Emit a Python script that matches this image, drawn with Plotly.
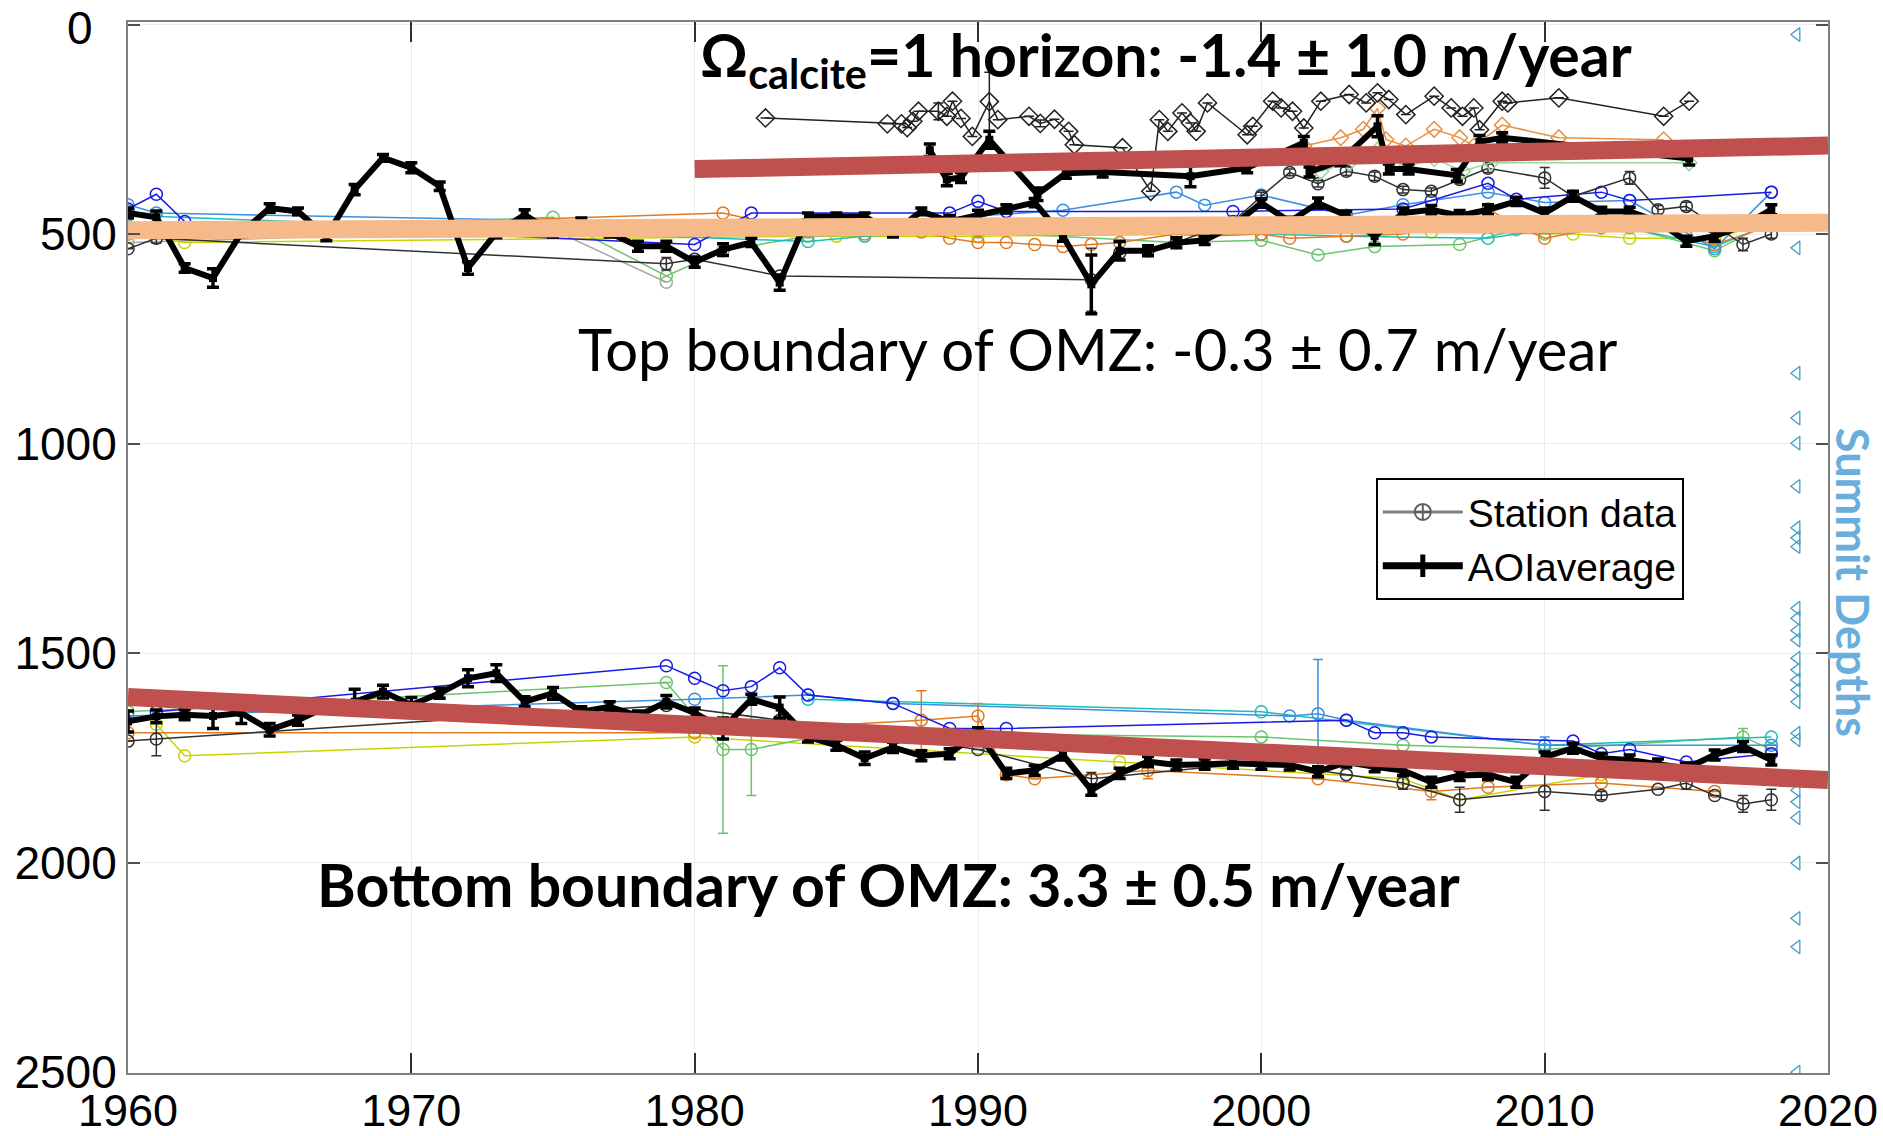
import plotly.graph_objects as go

# ---------------- data ----------------
# AOI average, top boundary of OMZ
aoi_top_years = list(range(1960, 2019))
aoi_top_depth = [450, 460, 581, 605, 497, 438, 446, 506, 394, 318, 342, 386, 581, 497, 454, 497, 470, 497,
                 529, 529, 567, 537, 520, 616, 458, 458, 458, 497, 446, 470, 455, 440, 425, 505, 620, 540,
                 540, 521, 515, 480, 426, 470, 426, 456, 505, 450, 442, 456, 442, 422, 450, 410, 446, 446,
                 470, 517, 505, 480, 442]
aoi_top_err = [12, 15, 10, 22, 10, 10, 8, 10, 12, 8, 12, 10, 15, 12, 12, 10, 8, 10,
               12, 12, 12, 14, 10, 18, 8, 8, 8, 10, 8, 14, 12, 10, 10, 12, 70, 22,
               12, 12, 10, 12, 10, 10, 12, 10, 20, 12, 10, 12, 12, 10, 12, 12, 10, 10,
               10, 12, 12, 10, 12]

# AOI average, Omega calcite = 1 horizon
aoi_om_years = [1988.3, 1988.9, 1989.4, 1990.4, 1992.1, 1993.1, 1994.4, 1997.5, 1999.5, 2001.5, 2001.7,
                2002.8, 2004.1, 2004.5, 2005.2, 2006.9, 2007.7, 2008.5, 2015.1]
aoi_om_depth = [300, 370, 365, 275, 405, 355, 352, 362, 342, 282, 352, 325, 243, 345, 345, 360, 280, 270, 320]
aoi_om_err = [15, 15, 12, 20, 15, 12, 12, 25, 12, 15, 12, 12, 25, 12, 12, 14, 15, 12, 15]

# station Omega horizons (diamonds)
om_st_years = [1982.5, 1986.8, 1987.3, 1987.5, 1987.7, 1987.9, 1988.6, 1988.9, 1989.1, 1989.4, 1989.8,
               1990.4, 1990.7, 1991.8, 1992.2, 1992.7, 1993.2, 1993.4, 1995.1, 1996.1, 1996.4, 1996.7,
               1997.2, 1997.5, 1997.7, 1998.1, 1999.5, 1999.7, 2000.4, 2000.7, 2001.1, 2001.5, 2002.1,
               2003.1, 2003.7, 2004.1, 2004.5, 2005.1, 2006.1, 2006.7, 2007.1, 2007.5, 2007.7, 2008.5,
               2008.7, 2010.5, 2014.2, 2015.1]
om_st_depth = [223, 237, 237, 246, 231, 207, 207, 219, 183, 224, 267, 184, 227, 219, 236, 226, 255, 287,
               294, 398, 227, 255, 211, 235, 255, 187, 263, 243, 183, 199, 207, 247, 183, 167, 187, 163,
               179, 215, 171, 199, 219, 199, 251, 183, 187, 175, 219, 183]
om_st_err = [0, 0, 0, 0, 0, 0, 20, 0, 0, 0, 0, 70, 0, 0, 8, 0, 0, 0, 0, 0, 0, 0, 0, 0, 0, 0, 0, 0, 0, 0,
             0, 0, 0, 0, 0, 0, 0, 0, 0, 0, 0, 0, 0, 0, 0, 0, 0, 0]

om_orange_years = [2001.5, 2002.8, 2003.6, 2004.1, 2004.4, 2005.1, 2006.1, 2007.0, 2007.5, 2008.5, 2010.5, 2014.2]
om_orange_depth = [290, 270, 250, 200, 275, 290, 250, 270, 290, 240, 270, 275]
om_green_years = [2002.1, 2003.1, 2004.1, 2005.1, 2006.1, 2007.1, 2008.1, 2015.1]
om_green_depth = [350, 330, 300, 340, 320, 350, 330, 330]

# station data, top boundary of OMZ
top_blue_years = [1960, 1961, 1962, 1980, 1982, 1989, 1990, 1991, 1999, 2005, 2006, 2008, 2009, 2012, 2013, 2018]
top_blue_depth = [440, 405, 470, 525, 450, 450, 422, 446, 446, 440, 420, 379, 417, 400, 420, 400]
top_lblue_years = [1960, 1961, 1985, 1993, 1997, 1998, 2000, 2003, 2005, 2008, 2010, 2013, 2016, 2018]
top_lblue_depth = [430, 450, 480, 443, 400, 431, 407, 455, 430, 400, 425, 420, 535, 400]
top_orange_years = [1960, 1981, 1984, 1986, 1988, 1989, 1990, 1991, 1992, 1993, 1994, 1995, 1997, 1998,
                    2000, 2001, 2003, 2005, 2006, 2007, 2008, 2009, 2010, 2012, 2013, 2015, 2016, 2018]
top_orange_depth = [495, 450, 495, 500, 495, 510, 520, 520, 525, 530, 525, 520, 500, 505,
                    500, 510, 505, 500, 480, 460, 440, 480, 510, 485, 470, 505, 525, 480]
top_green_years = [1960, 1975, 1979, 1981, 1984, 1990, 1997, 2000, 2002, 2004, 2007, 2009, 2010, 2013, 2016, 2018]
top_green_depth = [500, 460, 600, 540, 505, 495, 520, 515, 550, 530, 525, 490, 500, 485, 540, 470]
top_yellow_years = [1960, 1962, 1985, 1990, 2000, 2006, 2011, 2013, 2016, 2018]
top_yellow_depth = [500, 520, 505, 505, 500, 495, 500, 510, 510, 470]
top_cyan_years = [1960, 1984, 1986, 1990, 2000, 2003, 2008, 2012, 2016, 2018]
top_cyan_depth = [455, 518, 505, 490, 500, 505, 510, 470, 530, 475]
top_black_years = [1960, 1961, 1979, 1980, 1983, 1994, 1995, 1996, 1997, 1999, 2000, 2001, 2002, 2003,
                   2004, 2005, 2006, 2007, 2008, 2010, 2011, 2013, 2014, 2015, 2017, 2018]
top_black_depth = [535, 510, 571, 560, 600, 609, 545, 540, 520, 470, 410, 353, 380, 350,
                   362, 394, 398, 370, 343, 366, 410, 366, 442, 434, 525, 500]
top_black_err = [0, 12, 15, 0, 0, 75, 0, 8, 0, 0, 10, 8, 8, 10, 10, 8, 8, 10, 10, 25, 8, 15, 10, 10, 15, 10]
top_grey_years = [1960, 1975, 1979]
top_grey_depth = [520, 490, 615]

# AOI average, bottom boundary of OMZ
aoi_bot_years = list(range(1960, 2019))
aoi_bot_depth = [1663, 1651, 1647, 1650, 1643, 1683, 1660, 1628, 1616, 1592, 1624, 1596, 1560, 1548, 1616,
                 1596, 1640, 1628, 1650, 1616, 1643, 1680, 1610, 1630, 1700, 1720, 1751, 1725, 1745, 1740,
                 1690, 1787, 1780, 1743, 1827, 1787, 1759, 1767, 1765, 1763, 1765, 1767, 1783, 1760, 1771,
                 1780, 1808, 1792, 1790, 1808, 1748, 1727, 1751, 1755, 1765, 1775, 1743, 1723, 1755]
aoi_bot_err = [25, 15, 12, 30, 25, 15, 12, 12, 30, 15, 18, 12, 20, 20, 12, 14, 12, 12, 12, 15, 12, 25,
               12, 25, 12, 12, 15, 12, 12, 12, 12, 12, 12, 12, 12, 12, 12, 12, 12, 12, 12, 12, 12, 12,
               12, 12, 12, 12, 12, 12, 12, 12, 12, 12, 12, 12, 12, 12, 12]

# station data, bottom boundary of OMZ
bot_black_years = [1960, 1961, 1979, 1983, 1990, 1994, 2000, 2003, 2005, 2007, 2010, 2012, 2014, 2015, 2016, 2017, 2018]
bot_black_depth = [1710, 1705, 1625, 1660, 1730, 1800, 1760, 1790, 1810, 1850, 1830, 1840, 1825, 1810, 1840, 1860, 1850]
bot_black_err = [0, 40, 0, 0, 0, 15, 0, 0, 15, 30, 45, 10, 0, 15, 0, 20, 25]
bot_blue_years = [1961, 1979, 1980, 1981, 1982, 1983, 1984, 1987, 1989, 1991, 2003, 2004, 2005, 2006,
                  2011, 2012, 2013, 2015, 2018]
bot_blue_depth = [1640, 1530, 1560, 1590, 1580, 1535, 1600, 1620, 1680, 1680, 1660, 1690, 1690, 1700,
                  1710, 1740, 1730, 1760, 1740]
bot_lblue_years = [1960, 1980, 1984, 1987, 2001, 2002, 2003, 2010, 2018]
bot_lblue_depth = [1650, 1610, 1600, 1620, 1650, 1645, 1660, 1720, 1720]
bot_lblue_err = [0, 0, 0, 0, 0, 130, 0, 20, 0]
bot_green_years = [1960, 1979, 1981, 1982, 1985, 2000, 2005, 2010, 2017, 2018]
bot_green_depth = [1640, 1570, 1730, 1730, 1690, 1700, 1720, 1730, 1700, 1730]
bot_green_err = [0, 0, 200, 110, 0, 0, 0, 0, 20, 0]
bot_yellow_years = [1961, 1962, 1980, 1995, 2005, 2007, 2012, 2018]
bot_yellow_depth = [1670, 1745, 1700, 1760, 1800, 1850, 1790, 1800]
bot_orange_years = [1960, 1980, 1988, 1990, 1991, 1992, 1996, 2002, 2006, 2008, 2012, 2016]
bot_orange_depth = [1690, 1690, 1660, 1650, 1790, 1800, 1780, 1800, 1830, 1820, 1810, 1830]
bot_orange_err = [0, 0, 70, 30, 0, 0, 20, 0, 20, 0, 0, 0]
bot_cyan_years = [1984, 2000, 2010, 2018]
bot_cyan_depth = [1610, 1640, 1720, 1700]

# summit depths (right-hand triangles)
summit_year = 2018.9
summit_depths = [24, 533, 832, 939, 999, 1102, 1201, 1225, 1246, 1393, 1417, 1446, 1469, 1512, 1540,
                 1564, 1588, 1616, 1691, 1707, 1827, 1855, 1893, 2001, 2133, 2201, 2500]

# trend lines
omega_trend_years = [1980, 2020]
omega_trend_depth = [345, 289]
top_trend_years = [1960, 2020]
top_trend_depth = [491, 473]
bot_trend_years = [1960, 2020]
bot_trend_depth = [1605, 1803]

y_top_label = 0

# ---------------- figure ----------------
fig = go.Figure()


def station(xs, ys, color, symbol="circle-open", err=None, width=1.5, size=12):
    kw = {}
    if err is not None:
        kw["error_y"] = dict(type="data", array=err, color=color, thickness=1.5, width=5)
    fig.add_trace(go.Scatter(
        x=xs, y=ys, mode="lines+markers", showlegend=False,
        line=dict(color=color, width=width),
        marker=dict(symbol=symbol, size=size, color=color, line=dict(width=1.5, color=color)),
        **kw))


# station series (top boundary)
station(top_grey_years, top_grey_depth, "#A8A8A8")
station(top_yellow_years, top_yellow_depth, "#C8D400")
station(top_green_years, top_green_depth, "#6CC46C")
station(top_cyan_years, top_cyan_depth, "#19BFB8")
station(top_orange_years, top_orange_depth, "#E07B24")
station(top_lblue_years, top_lblue_depth, "#3D8FE0")
station(top_blue_years, top_blue_depth, "#1A1AE6")
station(top_black_years, top_black_depth, "#303030", err=top_black_err)

# omega station series
station(om_green_years, om_green_depth, "#9AD89A", symbol="diamond-open")
station(om_orange_years, om_orange_depth, "#E89040", symbol="diamond-open")
station(om_st_years, om_st_depth, "#222222", symbol="diamond-open", err=om_st_err, size=14)

# station series (bottom boundary)
station(bot_yellow_years, bot_yellow_depth, "#C8D400")
station(bot_green_years, bot_green_depth, "#6CC46C", err=bot_green_err)
station(bot_cyan_years, bot_cyan_depth, "#19BFB8")
station(bot_orange_years, bot_orange_depth, "#E07B24", err=bot_orange_err)
station(bot_lblue_years, bot_lblue_depth, "#3D8FE0", err=bot_lblue_err)
station(bot_blue_years, bot_blue_depth, "#1A1AE6")
station(bot_black_years, bot_black_depth, "#303030", err=bot_black_err)


def aoi(xs, ys, err):
    fig.add_trace(go.Scatter(
        x=xs, y=ys, mode="lines+markers", showlegend=False,
        line=dict(color="black", width=6),
        marker=dict(symbol="square", size=8, color="black"),
        error_y=dict(type="data", array=err, color="black", thickness=3.5, width=6)))


aoi(aoi_top_years, aoi_top_depth, aoi_top_err)
aoi(aoi_om_years, aoi_om_depth, aoi_om_err)
aoi(aoi_bot_years, aoi_bot_depth, aoi_bot_err)

# summit depths
fig.add_trace(go.Scatter(
    x=[summit_year] * len(summit_depths), y=summit_depths, mode="markers", showlegend=False,
    marker=dict(symbol="triangle-left-open", size=12, color="#3FA0C8", line=dict(width=1.3))))

# trend lines
for xs, ys, col in [(omega_trend_years, omega_trend_depth, "#C0504D"),
                    (top_trend_years, top_trend_depth, "#F6B98A"),
                    (bot_trend_years, bot_trend_depth, "#C0504D")]:
    fig.add_trace(go.Scatter(x=xs, y=ys, mode="lines", showlegend=False, hoverinfo="skip",
                             line=dict(color=col, width=18)))

# legend entries
fig.add_trace(go.Scatter(x=[None], y=[None], mode="lines+markers", name="Station data",
                         line=dict(color="#808080", width=3),
                         marker=dict(symbol="circle-cross-open", size=18, color="#606060",
                                     line=dict(width=2))))
fig.add_trace(go.Scatter(x=[None], y=[None], mode="lines+markers", name="AOIaverage",
                         line=dict(color="black", width=7),
                         marker=dict(symbol="line-ns-open", size=34, color="black",
                                     line=dict(width=6, color="black"))))

# annotations
fig.add_annotation(x=1980.1, y=80, xref="x", yref="y", xanchor="left", yanchor="middle",
                   text="<b>Ω<sub>calcite</sub>=1 horizon: -1.4 ± 1.0 m/year</b>", showarrow=False,
                   font=dict(family="Lato", size=59, color="black"))
fig.add_annotation(x=1975.8, y=772, xref="x", yref="y", xanchor="left", yanchor="middle",
                   text="Top boundary of OMZ: -0.3 ± 0.7 m/year", showarrow=False,
                   font=dict(family="Lato", size=58, color="black"))
fig.add_annotation(x=1966.6, y=2053, xref="x", yref="y", xanchor="left", yanchor="middle",
                   text="<b>Bottom boundary of OMZ: 3.3 ± 0.5 m/year</b>", showarrow=False,
                   font=dict(family="Lato", size=59, color="black"))
fig.add_annotation(x=(1853 - 128) / 1700, y=1330, xref="paper", yref="y", xanchor="center",
                   yanchor="middle", text="<b>Summit Depths</b>", textangle=90, showarrow=False,
                   font=dict(family="Lato", size=45, color="#6AAEDC"))
# top tick label of the depth axis (plotly hides the edge label here)
fig.add_annotation(x=0, y=y_top_label, xref="paper", yref="y", xanchor="right", yanchor="top",
                   xshift=-34, yshift=24, borderpad=0, text=str(y_top_label), showarrow=False,
                   font=dict(family="Liberation Sans", size=46, color="black"))

fig.update_layout(
    width=1883, height=1136,
    margin=dict(l=128, r=55, t=22, b=63),
    paper_bgcolor="white", plot_bgcolor="white",
    font=dict(family="Liberation Sans", color="black"),
    legend=dict(x=0.734, y=0.566, xanchor="left", yanchor="top",
                bordercolor="black", borderwidth=2, bgcolor="white",
                font=dict(family="Liberation Sans", size=39, color="black"),
                itemwidth=80, tracegroupgap=0),
)
fig.update_xaxes(range=[1960, 2020], tickmode="linear", tick0=1960, dtick=10,
                 showline=True, linecolor="#808080", linewidth=2, mirror="ticks",
                 ticks="inside", ticklen=20, tickcolor="#303030", tickwidth=1.5,
                 showgrid=True, gridcolor="#EBEBEB", gridwidth=1, zeroline=False, automargin=False,
                 tickfont=dict(family="Liberation Sans", size=45), ticklabelstandoff=-3)
fig.update_yaxes(range=[2502, -6], tickmode="linear", tick0=0, dtick=500,
                 showline=True, linecolor="#808080", linewidth=2, mirror="ticks",
                 ticks="inside", ticklen=12, tickcolor="#505050", tickwidth=1.5,
                 showgrid=True, gridcolor="#EBEBEB", gridwidth=1, zeroline=False, automargin=False,
                 tickfont=dict(family="Liberation Sans", size=46))

fig.write_html("out.html")
